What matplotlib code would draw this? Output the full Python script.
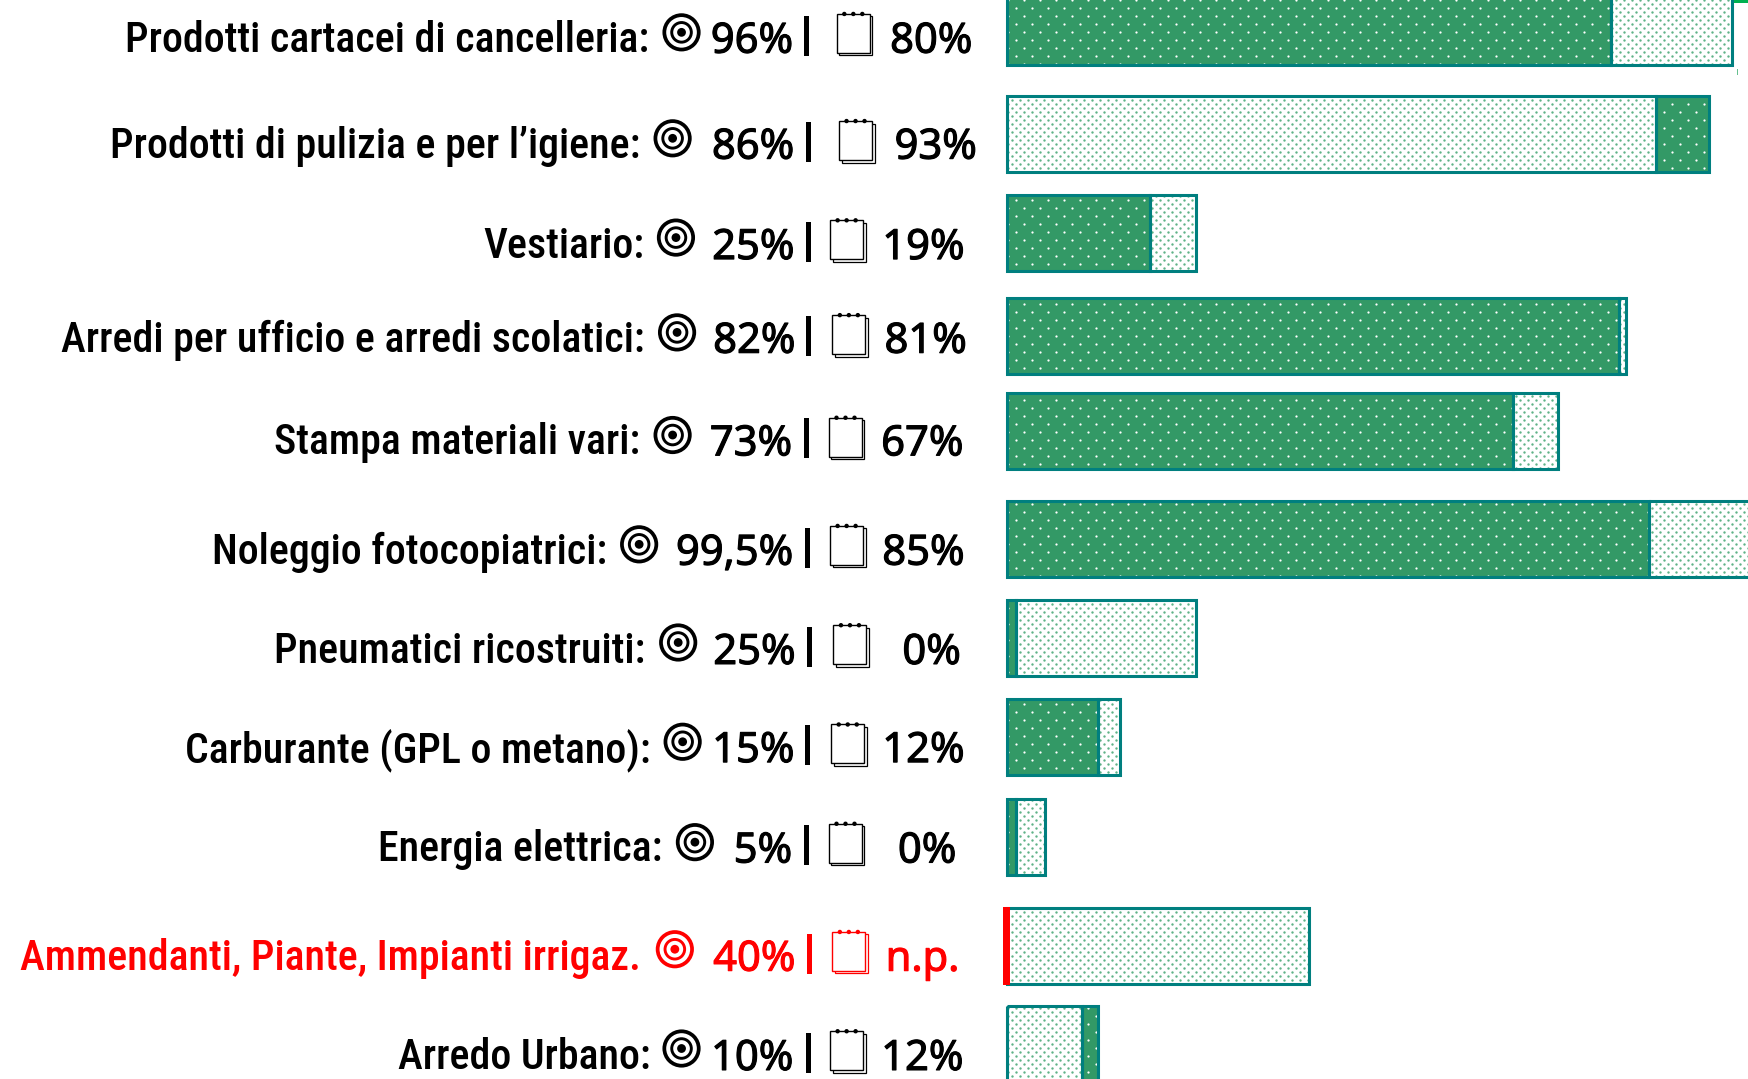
import numpy as np
import matplotlib
matplotlib.use('Agg')
import matplotlib.pyplot as plt
import matplotlib.patheffects as pe
from matplotlib.patches import Rectangle, Circle
from matplotlib.transforms import Affine2D

# ---- data ----
categories = ["Prodotti cartacei di cancelleria:", "Prodotti di pulizia e per l’igiene:", "Vestiario:",
              "Arredi per ufficio e arredi scolatici:", "Stampa materiali vari:", "Noleggio fotocopiatrici:",
              "Pneumatici ricostruiti:", "Carburante (GPL o metano):", "Energia elettrica:",
              "Ammendanti, Piante, Impianti irrigaz.", "Arredo Urbano:"]
target = [96, 86, 25, 82, 73, 99.5, 25, 15, 5, 40, 10]
actual = [80, 93, 19, 81, 67, 85, 0, 12, 0, None, 12]
target_labels = ["96%", "86%", "25%", "82%", "73%", "99,5%", "25%", "15%", "5%", "40%", "10%"]
actual_labels = ["80%", "93%", "19%", "81%", "67%", "85%", "0%", "12%", "0%", "n.p.", "12%"]
highlighted = ["Ammendanti, Piante, Impianti irrigaz."]

# ---- layout (pixel rows / columns of the figure) ----
W, H = 1749, 1079
S = 1749 / 1568
row_y = np.array([24, 120, 209, 301, 386, 483, 572, 661, 750, 848, 936]) * S
bar_h = 76
x0_px, px_per_pct = 1007, 7.55
label_right = [582, 574, 578, 578, 574, 544, 579, 583, 594, 575, 583]
label_y = [32, 127, 217, 301, 393, 491, 580, 668, 758, 855, 944]
target_icon = [(611, 29), (603, 124), (606, 213), (607, 298), (603, 390), (573, 488), (608, 576), (612, 665), (623, 755), (605, 851), (611, 940)]
target_right = [711, 712, 712, 713, 710, 711, 713, 712, 710, 713, 711]
sep_x = [723, 725, 725, 725, 723, 724, 726, 724, 723, 726, 725]
note_icon = [(765, 30), (767, 126), (759, 215), (761, 300), (758, 392), (759, 489), (762, 578), (760, 667), (758, 756), (761, 853), (759, 942)]
actual_left = [798, 802, 791, 793, 790, 791, 809, 791, 805, 794, 790]
MIN_W = 1.2

DARK, EDGE, RED = '#339966', '#007f7f', '#ff0000'
FONT, NUMFONT = 'Roboto Condensed', 'Noto Sans'
FS, NUMFS = 30.2, 30

fig = plt.figure(figsize=(W / 100, H / 100), dpi=100, facecolor='white')
ax = fig.add_axes([0, 0, 1, 1])
ax.set_xlim(-x0_px / px_per_pct, (W - x0_px) / px_per_pct)
ax.set_ylim(H, 0)
ax.axis('off')
px = Affine2D().scale(1 / W, -1 / H).translate(0, 1) + fig.transFigure


def texture(patch, dx, dy, color, size):
    """Staggered dot screen clipped to a bar segment."""
    xa = np.arange(0, W, dx)
    rows = np.arange(0, H, dy)
    xs, ys = [], []
    for i, r in enumerate(rows):
        xs.append(xa + (dx / 2 if i % 2 else 0))
        ys.append(np.full(xa.size, r))
    sc = ax.scatter(np.concatenate(xs), np.concatenate(ys), s=size, c=color, linewidths=0,
                    transform=px, zorder=patch.get_zorder() + 0.1)
    sc.set_clip_path(patch)


def segment(y, left, width, dark):
    bar = ax.barh(y, width, left=left, height=bar_h, color=DARK if dark else 'white',
                  edgecolor='none', zorder=2)[0]
    if dark:
        texture(bar, 16, 8, 'white', 2.6)
    else:
        texture(bar, 8, 4, '#5fb287', 3.0)
    ax.barh(y, width, left=left, height=bar_h, facecolor='none', edgecolor=EDGE, linewidth=2.2, zorder=3)


def target_mark(cx, cy, color):
    for r, lw in [(17.2, 2.7), (9.8, 2.1)]:
        fig.add_artist(Circle((cx, cy), r, transform=px, fc='none', ec=color, lw=lw))
    fig.add_artist(Circle((cx, cy), 4.4, transform=px, fc=color, ec='none'))


def note_mark(cx, cy, color):
    w, h = 33, 39
    fig.add_artist(Rectangle((cx - w / 2 + 2.5, cy - h / 2 + 2.5), w, h, transform=px, fc='white', ec=color, lw=0.9))
    fig.add_artist(Rectangle((cx - w / 2, cy - h / 2), w, h, transform=px, fc='white', ec=color, lw=1.0))
    for dx in (-9, 0, 9):
        fig.add_artist(Circle((cx + dx, cy - h / 2), 2.2, transform=px, fc=color, ec='none'))


for i, cat in enumerate(categories):
    y = row_y[i]
    t, a = target[i], actual[i]
    if a is None:
        segment(y, 0, t, False)
        ax.barh(y, 0.9, left=-0.5, height=bar_h + 2, color=RED, zorder=4)
    else:
        a_w = max(a, MIN_W)
        if a_w <= t:
            segment(y, a_w, t - a_w, False)
            segment(y, 0, a_w, True)
        else:
            segment(y, 0, t, False)
            segment(y, t, a_w - t, True)

    col = RED if cat in highlighted else 'black'
    ly = label_y[i] * S
    kw = dict(transform=px, color=col, va='center_baseline')
    heavy = [pe.withStroke(linewidth=0.8, foreground=col)]
    fig.text(label_right[i] * S, ly, cat, ha='right', family=FONT, weight=500, fontsize=FS, **kw)
    fig.text(target_right[i] * S, ly + 1, target_labels[i], ha='right',
             family=NUMFONT, fontsize=NUMFS, path_effects=heavy, **kw)
    fig.text(actual_left[i] * S, ly + 1, actual_labels[i], ha='left',
             family=NUMFONT, fontsize=NUMFS, path_effects=heavy, **kw)
    fig.add_artist(Rectangle((sep_x[i] * S - 2.5, ly - 20), 5, 40, transform=px, fc=col, ec='none'))
    target_mark(target_icon[i][0] * S, target_icon[i][1] * S, col)
    note_mark(note_icon[i][0] * S, note_icon[i][1] * S, col)

# small stray marks at the upper right of the source
fig.add_artist(Rectangle((1734, 0), 15, 2.5, transform=px, fc='#00b050', ec='none'))
fig.add_artist(Rectangle((1737, 69), 1, 6, transform=px, fc='#66c08f', ec='none'))

fig.savefig('out.png', dpi=100, facecolor='white')
